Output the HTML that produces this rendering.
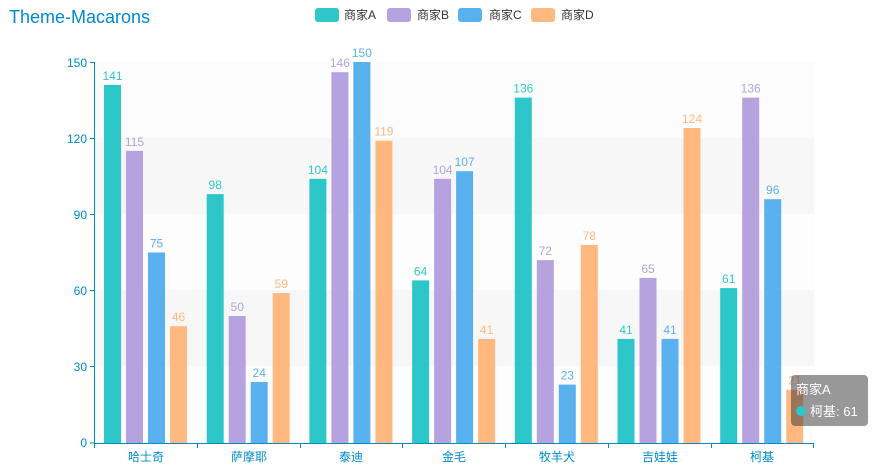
<!DOCTYPE html><html><head><meta charset="utf-8"><style>body{margin:0;background:#fff}svg{display:block;font-family:"Liberation Sans","Noto Sans CJK SC",sans-serif}</style></head><body>
<svg width="875" height="470" xmlns="http://www.w3.org/2000/svg">
<text x="9" y="23" font-size="18" fill="#008acd">Theme-Macarons</text>
<g font-size="12" fill="#333">
<rect x="315" y="8" width="24" height="14" rx="3" fill="#2ec7c9"/><text x="344" y="19">商家A</text>
<rect x="387" y="8" width="24" height="14" rx="3" fill="#b6a2de"/><text x="417" y="19">商家B</text>
<rect x="458" y="8" width="24" height="14" rx="3" fill="#5ab1ef"/><text x="489" y="19">商家C</text>
<rect x="531" y="8" width="24" height="14" rx="3" fill="#ffb980"/><text x="561" y="19">商家D</text>
</g>
<rect x="95" y="62" width="719" height="76" fill="#fcfcfc"/>
<rect x="95" y="138" width="719" height="76" fill="#f7f7f7"/>
<rect x="95" y="214" width="719" height="76" fill="#fdfdfd"/>
<rect x="95" y="290" width="719" height="76" fill="#f7f7f7"/>
<rect x="95" y="366" width="719" height="77" fill="#fdfdfd"/>
<g fill="#2ec7c9">
<rect x="104" y="84.9" width="17" height="358.1"/>
<rect x="206.7" y="194.1" width="17" height="248.9"/>
<rect x="309.4" y="178.8" width="17" height="264.2"/>
<rect x="412.1" y="280.4" width="17" height="162.6"/>
<rect x="514.8" y="97.6" width="17" height="345.4"/>
<rect x="617.5" y="338.9" width="17" height="104.1"/>
<rect x="720.2" y="288.1" width="17" height="154.9"/>
</g>
<g fill="#b6a2de">
<rect x="126" y="150.9" width="17" height="292.1"/>
<rect x="228.7" y="316" width="17" height="127"/>
<rect x="331.4" y="72.2" width="17" height="370.8"/>
<rect x="434.1" y="178.8" width="17" height="264.2"/>
<rect x="536.8" y="260.1" width="17" height="182.9"/>
<rect x="639.5" y="277.9" width="17" height="165.1"/>
<rect x="742.2" y="97.6" width="17" height="345.4"/>
</g>
<g fill="#5ab1ef">
<rect x="148" y="252.5" width="17" height="190.5"/>
<rect x="250.7" y="382" width="17" height="61"/>
<rect x="353.4" y="62" width="17" height="381"/>
<rect x="456.1" y="171.2" width="17" height="271.8"/>
<rect x="558.8" y="384.6" width="17" height="58.4"/>
<rect x="661.5" y="338.9" width="17" height="104.1"/>
<rect x="764.2" y="199.2" width="17" height="243.8"/>
</g>
<g fill="#ffb980">
<rect x="170" y="326.2" width="17" height="116.8"/>
<rect x="272.7" y="293.1" width="17" height="149.9"/>
<rect x="375.4" y="140.7" width="17" height="302.3"/>
<rect x="478.1" y="338.9" width="17" height="104.1"/>
<rect x="580.8" y="244.9" width="17" height="198.1"/>
<rect x="683.5" y="128" width="17" height="315"/>
<rect x="786.2" y="389.7" width="17" height="53.3"/>
</g>
<g font-size="12" text-anchor="middle">
<g fill="#2ec7c9">
<text x="112.5" y="79.9">141</text><text x="215.2" y="189.1">98</text><text x="317.9" y="173.8">104</text><text x="420.6" y="275.4">64</text><text x="523.3" y="92.6">136</text><text x="626" y="333.9">41</text><text x="728.7" y="283.1">61</text>
</g>
<g fill="#b6a2de">
<text x="134.5" y="145.9">115</text><text x="237.2" y="311">50</text><text x="339.9" y="67.2">146</text><text x="442.6" y="173.8">104</text><text x="545.3" y="255.1">72</text><text x="648" y="272.9">65</text><text x="750.7" y="92.6">136</text>
</g>
<g fill="#5ab1ef">
<text x="156.5" y="247.5">75</text><text x="259.2" y="377">24</text><text x="361.9" y="57">150</text><text x="464.6" y="166.2">107</text><text x="567.3" y="379.6">23</text><text x="670" y="333.9">41</text><text x="772.7" y="194.2">96</text>
</g>
<g fill="#ffb980">
<text x="178.5" y="321.2">46</text><text x="281.2" y="288.1">59</text><text x="383.9" y="135.7">119</text><text x="486.6" y="333.9">41</text><text x="589.3" y="239.9">78</text><text x="692" y="123">124</text><text x="794.7" y="384.7">21</text>
</g>
</g>
<line x1="94.5" y1="62" x2="94.5" y2="443" stroke="#008acd"/>
<line x1="94" y1="443.5" x2="814" y2="443.5" stroke="#008acd"/>
<g stroke="#008acd">
<line x1="90" y1="62.5" x2="95" y2="62.5"/><line x1="90" y1="138.5" x2="95" y2="138.5"/><line x1="90" y1="214.5" x2="95" y2="214.5"/><line x1="90" y1="290.5" x2="95" y2="290.5"/><line x1="90" y1="366.5" x2="95" y2="366.5"/><line x1="90" y1="443" x2="95" y2="443"/>
<line x1="94.5" y1="443" x2="94.5" y2="448"/><line x1="197.5" y1="443" x2="197.5" y2="448"/><line x1="300.5" y1="443" x2="300.5" y2="448"/><line x1="402.5" y1="443" x2="402.5" y2="448"/><line x1="505.5" y1="443" x2="505.5" y2="448"/><line x1="608.5" y1="443" x2="608.5" y2="448"/><line x1="711.5" y1="443" x2="711.5" y2="448"/><line x1="813.5" y1="443" x2="813.5" y2="448"/>
</g>
<g font-size="12" fill="#008acd" text-anchor="end">
<text x="87" y="67">150</text><text x="87" y="143">120</text><text x="87" y="219">90</text><text x="87" y="295">60</text><text x="87" y="371">30</text><text x="87" y="447">0</text>
</g>
<g font-size="12" fill="#008acd" text-anchor="middle">
<text x="146" y="461">哈士奇</text><text x="249" y="461">萨摩耶</text><text x="351" y="461">泰迪</text><text x="454" y="461">金毛</text><text x="557" y="461">牧羊犬</text><text x="660" y="461">吉娃娃</text><text x="762" y="461">柯基</text>
</g>
<rect x="791" y="375" width="77" height="51" rx="4" fill="rgba(50,50,50,0.5)"/>
<text x="796" y="394" font-size="13" fill="#fff">商家A</text>
<circle cx="801" cy="411" r="5" fill="#2ec7c9"/>
<text x="810" y="416" font-size="13" fill="#fff">柯基: 61</text>
</svg>
</body></html>
